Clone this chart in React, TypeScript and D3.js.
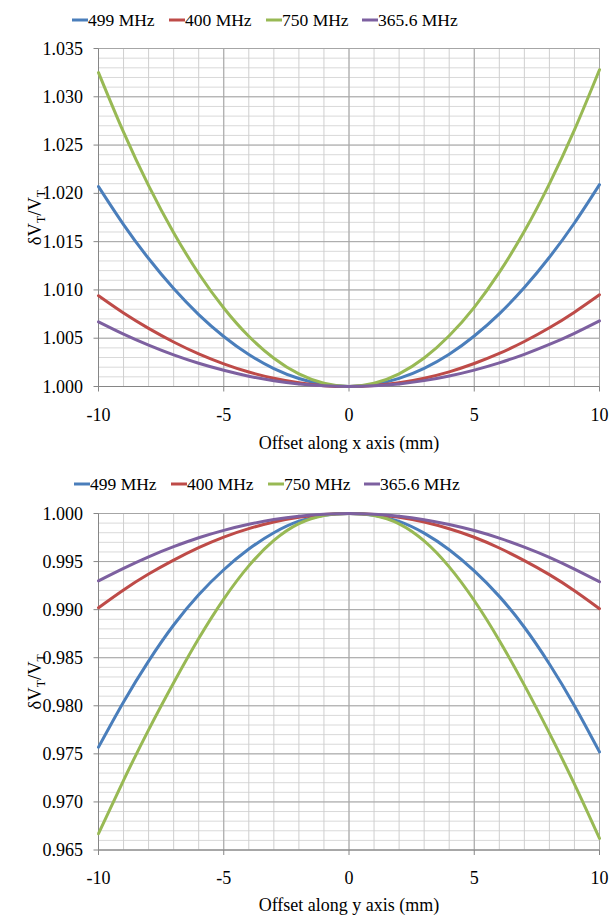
import React from "react";
import * as d3 from "d3";

const offsets = [-10, -9, -8, -7, -6, -5, -4, -3, -2, -1, 0, 1, 2, 3, 4, 5, 6, 7, 8, 9, 10];
const seriesNames = ["499 MHz", "400 MHz", "750 MHz", "365.6 MHz"];
const seriesColors = ["#4a7ebb", "#be4b48", "#98b954", "#7d60a0"];

// Top panel: offset along x
const x499 = [1.0207, 1.01677, 1.01325, 1.01014, 1.00745, 1.00518, 1.00331, 1.00186, 1.00083, 1.00021, 1.0, 1.00021, 1.00084, 1.00188, 1.00334, 1.00523, 1.00752, 1.01024, 1.01338, 1.01693, 1.0209];
const x400 = [1.0094, 1.00761, 1.00602, 1.00461, 1.00338, 1.00235, 1.0015, 1.00085, 1.00038, 1.00009, 1.0, 1.0001, 1.00038, 1.00086, 1.00152, 1.00238, 1.00342, 1.00466, 1.00608, 1.0077, 1.0095];
const x750 = [1.0325, 1.02633, 1.0208, 1.01593, 1.0117, 1.00813, 1.0052, 1.00293, 1.0013, 1.00033, 1.0, 1.00033, 1.00131, 1.00295, 1.00525, 1.0082, 1.01181, 1.01607, 1.02099, 1.02657, 1.0328];
const x365 = [1.0067, 1.00543, 1.00429, 1.00328, 1.00241, 1.00168, 1.00107, 1.0006, 1.00027, 1.00007, 1.0, 1.00007, 1.00027, 1.00061, 1.00109, 1.0017, 1.00245, 1.00333, 1.00435, 1.00551, 1.0068];

// Bottom panel: offset along y
const y499 = [0.9757, 0.9804, 0.98465, 0.9884, 0.99155, 0.99415, 0.9963, 0.998, 0.9992, 0.99982, 1.0, 0.99982, 0.99918, 0.99796, 0.99623, 0.99403, 0.99138, 0.98817, 0.98435, 0.98001, 0.9752];
const y400 = [0.9902, 0.99205, 0.9937, 0.99515, 0.99645, 0.99755, 0.99843, 0.99912, 0.99961, 0.9999, 1.0, 0.9999, 0.99961, 0.99911, 0.99841, 0.99753, 0.99641, 0.9951, 0.99364, 0.99197, 0.9901];
const y750 = [0.9667, 0.97225, 0.9775, 0.9824, 0.987, 0.9911, 0.99455, 0.9972, 0.99895, 0.9998, 1.0, 0.9998, 0.99893, 0.99715, 0.99445, 0.99095, 0.9868, 0.98215, 0.97715, 0.97185, 0.9662];
const y365 = [0.993, 0.9943, 0.9955, 0.99655, 0.99748, 0.99825, 0.99888, 0.99937, 0.99972, 0.99993, 1.0, 0.99993, 0.99972, 0.99936, 0.99886, 0.99823, 0.99744, 0.9965, 0.99544, 0.99422, 0.9929];

const xTicks = [-10, -5, 0, 5, 10];
const topYTicks = [1.0, 1.005, 1.01, 1.015, 1.02, 1.025, 1.03, 1.035];
const bottomYTicks = [0.965, 0.97, 0.975, 0.98, 0.985, 0.99, 0.995, 1.0];

const FONT = "Liberation Serif, Tinos, Times New Roman, DejaVu Serif, serif";

type PanelProps = {
  top: number;
  bottom: number;
  domain: [number, number];
  yTicks: number[];
  series: number[][];
  legendY: number;
  legendX: number;
  title: string;
  tickLabelY: number;
  titleY: number;
};

function Panel(p: PanelProps) {
  const left = 98.5;
  const right = 599.5;
  const x = d3.scaleLinear().domain([-10, 10]).range([left, right]);
  const y = d3.scaleLinear().domain(p.domain).range([p.bottom, p.top]);
  const minorY = d3.range(0, 36).map((i) => p.domain[0] + i * 0.001);
  const minorX = d3.range(-10, 11);
  const line = d3
    .line<number>()
    .x((_, i) => x(offsets[i]))
    .y((v) => y(v))
    .curve(d3.curveNatural);
  const legendOffsets = [0, 97, 194, 290];
  const txt = { fontFamily: FONT, fill: "#000" } as React.CSSProperties;
  return (
    <g>
      {minorY.map((v, i) => (
        <line key={"mh" + i} x1={left} x2={right} y1={y(v)} y2={y(v)} stroke="#d9d9d9" strokeWidth={1} />
      ))}
      {minorX.map((v) => (
        <line key={"mv" + v} x1={x(v)} x2={x(v)} y1={p.top} y2={p.bottom} stroke="#cfcfcf" strokeWidth={1} />
      ))}
      {p.yTicks.map((v) => (
        <line key={"Mh" + v} x1={left} x2={right} y1={y(v)} y2={y(v)} stroke="#a6a6a6" strokeWidth={1} />
      ))}
      {xTicks.map((v) => (
        <line key={"Mv" + v} x1={x(v)} x2={x(v)} y1={p.top} y2={p.bottom} stroke="#a6a6a6" strokeWidth={1} />
      ))}
      <line x1={left} x2={left} y1={p.top} y2={p.bottom} stroke="#868686" strokeWidth={1} />
      <line x1={left} x2={right} y1={p.bottom} y2={p.bottom} stroke="#868686" strokeWidth={1} />
      {p.yTicks.map((v) => (
        <g key={"yt" + v}>
          <line x1={left - 5} x2={left} y1={y(v)} y2={y(v)} stroke="#868686" />
          <text x={83} y={y(v) + 6} textAnchor="end" fontSize={18} style={txt}>
            {v.toFixed(3)}
          </text>
        </g>
      ))}
      {xTicks.map((v) => (
        <g key={"xt" + v}>
          <line x1={x(v)} x2={x(v)} y1={p.bottom} y2={p.bottom + 5} stroke="#868686" />
          <text x={x(v)} y={p.tickLabelY} textAnchor="middle" fontSize={18} style={txt}>
            {String(v)}
          </text>
        </g>
      ))}
      {p.series.map((s, i) => (
        <path key={"s" + i} d={line(s) || ""} fill="none" stroke={seriesColors[i]} strokeWidth={3} strokeLinecap="round" />
      ))}
      {seriesNames.map((n, i) => (
        <g key={"lg" + i} transform={`translate(${p.legendX + legendOffsets[i]},${p.legendY})`}>
          <line x1={0} x2={16} y1={0} y2={0} stroke={seriesColors[i]} strokeWidth={3} />
          <text x={16} y={6} fontSize={17.5} style={txt}>
            {n}
          </text>
        </g>
      ))}
      <text x={(left + right) / 2} y={p.titleY} textAnchor="middle" fontSize={18} style={txt}>
        {p.title}
      </text>
      <text
        transform={`translate(41,${(p.top + p.bottom) / 2}) rotate(-90)`}
        textAnchor="middle"
        fontSize={18.5}
        style={txt}
      >
        δV<tspan fontSize={12} dy={4}>T</tspan>
        <tspan dy={-4}>/V</tspan>
        <tspan fontSize={12} dy={4}>T</tspan>
      </text>
    </g>
  );
}

export default function App() {
  return (
    <svg width={616} height={917} style={{ position: "absolute", left: 0, top: 0, background: "#fff" }}>
      <rect x={0} y={0} width={616} height={917} fill="#fff" />
      <Panel
        top={48.5}
        bottom={386.5}
        domain={[1.0, 1.035]}
        yTicks={topYTicks}
        series={[x499, x400, x750, x365]}
        legendY={20}
        legendX={72}
        title="Offset along x axis (mm)"
        tickLabelY={421}
        titleY={449}
      />
      <Panel
        top={513.5}
        bottom={850}
        domain={[0.965, 1.0]}
        yTicks={bottomYTicks}
        series={[y499, y400, y750, y365]}
        legendY={484}
        legendX={74}
        title="Offset along y axis (mm)"
        tickLabelY={884}
        titleY={911}
      />
    </svg>
  );
}
